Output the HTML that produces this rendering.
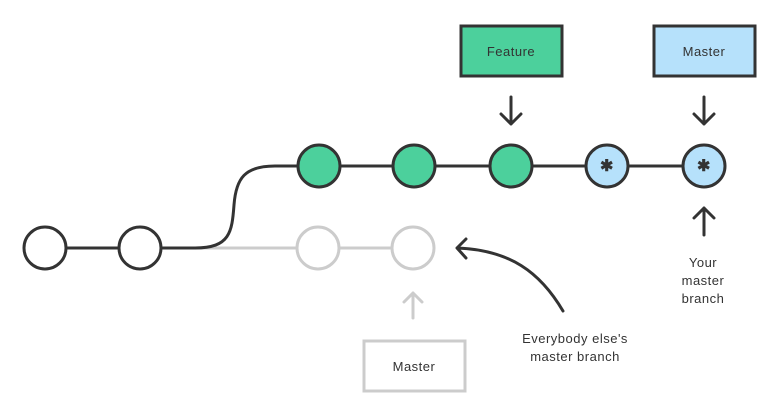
<!DOCTYPE html>
<html><head><style>
html,body{margin:0;padding:0;background:#fff;}
svg{display:block;}
text{font-family:"Liberation Sans",sans-serif;font-size:13px;fill:#333;text-anchor:middle;letter-spacing:0.5px;}
</style></head><body>
<svg width="783" height="417" viewBox="0 0 783 417">
<g stroke-linecap="round" stroke-linejoin="round" fill="none">
<!-- grey line -->
<line x1="195" y1="248" x2="413" y2="248" stroke="#ccc" stroke-width="3"/>
<!-- dark base line -->
<line x1="45" y1="248" x2="195" y2="248" stroke="#333" stroke-width="3"/>
<path d="M195 248 C230 248 232 232 234 205 C236 178 245 166 275 166 L703 166" stroke="#333" stroke-width="3"/>
<!-- arrows -->
<path d="M511 97 V124 M501 114 L511 124 L521 114" stroke="#333" stroke-width="3"/>
<path d="M704 97 V124 M694 114 L704 124 L714 114" stroke="#333" stroke-width="3"/>
<path d="M704 235 V208 M694 218 L704 208 L714 218" stroke="#333" stroke-width="3"/>
<path d="M413 318 V293 M404 302 L413 293 L422 302" stroke="#ccc" stroke-width="3"/>
<path d="M563 311 C540 272 510 250 457 248 M466 239 L457 248 L466 258" stroke="#333" stroke-width="3"/>
</g>
<!-- circles -->
<g stroke-width="3">
<circle cx="45" cy="248" r="21" fill="#fff" stroke="#333"/>
<circle cx="140" cy="248" r="21" fill="#fff" stroke="#333"/>
<circle cx="318" cy="248" r="21" fill="#fff" stroke="#ccc"/>
<circle cx="413" cy="248" r="21" fill="#fff" stroke="#ccc"/>
<circle cx="319" cy="166" r="21" fill="#4cd09c" stroke="#333"/>
<circle cx="414" cy="166" r="21" fill="#4cd09c" stroke="#333"/>
<circle cx="511" cy="166" r="21" fill="#4cd09c" stroke="#333"/>
<circle cx="607" cy="166" r="21" fill="#b6e1fb" stroke="#333"/>
<circle cx="704" cy="166" r="21" fill="#b6e1fb" stroke="#333"/>
</g>
<text x="607" y="171" style="font-size:16px;font-weight:bold;fill:#333">✱</text>
<text x="704" y="171" style="font-size:16px;font-weight:bold;fill:#333">✱</text>
<!-- boxes -->
<rect x="461" y="26" width="101" height="50" fill="#4cd09c" stroke="#333" stroke-width="3"/>
<text x="511" y="56">Feature</text>
<rect x="654" y="26" width="101" height="50" fill="#b6e1fb" stroke="#333" stroke-width="3"/>
<text x="704" y="56">Master</text>
<rect x="364" y="341" width="101" height="50" fill="#fff" stroke="#ccc" stroke-width="3"/>
<text x="414" y="371">Master</text>
<!-- labels -->
<text x="703" y="267">Your</text>
<text x="703" y="285">master</text>
<text x="703" y="303">branch</text>
<text x="575" y="343">Everybody else's</text>
<text x="575" y="361">master branch</text>
</svg>
</body></html>
